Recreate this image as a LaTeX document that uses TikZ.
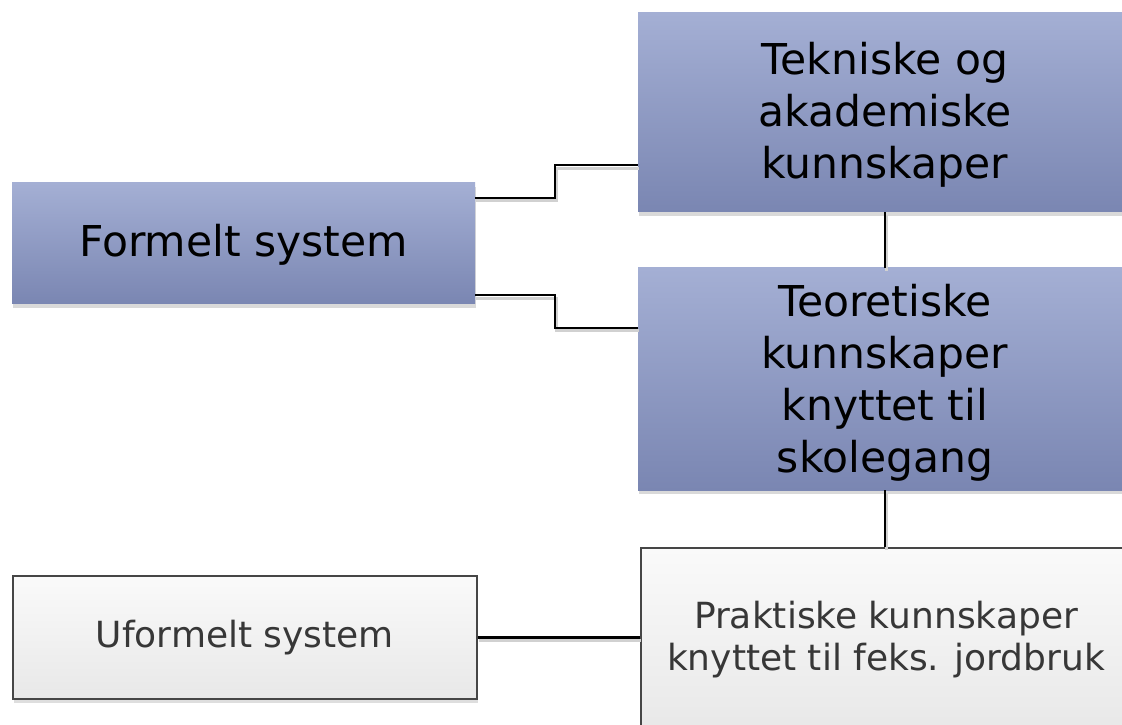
\documentclass[tikz,border=0pt]{standalone}
\usepackage{fontspec}
\setmainfont{DejaVu Sans}
\usetikzlibrary{calc,shadows}
\definecolor{bluetop}{RGB}{164,175,212}
\definecolor{bluebot}{RGB}{122,134,178}
\definecolor{graytop}{RGB}{250,250,250}
\definecolor{graybot}{RGB}{232,232,232}
\definecolor{grayedge}{RGB}{70,70,70}
\definecolor{graytext}{RGB}{55,55,55}
\newcommand{\linesdown}[2]{\raisebox{-#1}[\height][\depth]{\begin{tabular}{@{}c@{}}#2\end{tabular}}}
\tikzset{
  bluebox/.style={rectangle, inner sep=0pt, align=center,
    top color=bluetop, bottom color=bluebot, draw=none,
    drop shadow={shadow xshift=1pt, shadow yshift=-4pt, opacity=0.15, fill=black},
    font=\fontsize{42.5}{52}\selectfont, text=black},
  graybox/.style={rectangle, inner sep=0pt, align=center,
    top color=graytop, bottom color=graybot, draw=grayedge, line width=1.8pt,
    drop shadow={shadow xshift=1pt, shadow yshift=-4pt, opacity=0.13, fill=black},
    font=\fontsize{36}{42}\selectfont, text=graytext},
  conn/.style={draw=black, line width=2.2pt,
    preaction={draw=black!18, line width=3pt, transform canvas={xshift=1pt,yshift=-3pt}}}
}
\begin{document}
\begin{tikzpicture}[x=1pt,y=1pt]
\useasboundingbox (0,0) rectangle (1122,724);
\clip (0,0) rectangle (1122,724);
\fill[white] (0,0) rectangle (1122,724);

\node[bluebox, minimum width=463pt, minimum height=121pt] (formelt) at (243.5,480.5) {\linesdown{3pt}{Formelt system}};
\node[bluebox, minimum width=494pt, minimum height=199pt] (tekn) at (885,611.5) {\linesdown{4pt}{Tekniske og\\akademiske\\kunnskaper}};
\node[bluebox, minimum width=494pt, minimum height=222pt] (teor) at (885,345) {\linesdown{5pt}{Teoretiske\\kunnskaper\\knyttet til\\skolegang}};
\node[graybox, minimum width=490pt, minimum height=184pt] (prak) at (886,84) {Praktiske kunnskaper\\knyttet til feks. jordbruk};
\node[graybox, minimum width=464pt, minimum height=123pt] (uform) at (245,86.5) {Uformelt system};

\draw[conn] ($(formelt.north east)+(0,-15)$) -- ++(80,0) |- ($(tekn.south west)+(0,47)$);
\draw[conn] ($(formelt.south east)+(0,9)$) -- ++(80,0) |- ($(teor.north west)+(0,-60)$);
\draw[conn] (tekn.south) -- (teor.north);
\draw[conn] (teor.south) -- (teor.south |- prak.north);
\draw[conn] (uform.east) -- (uform.east -| prak.west);
\end{tikzpicture}
\end{document}
